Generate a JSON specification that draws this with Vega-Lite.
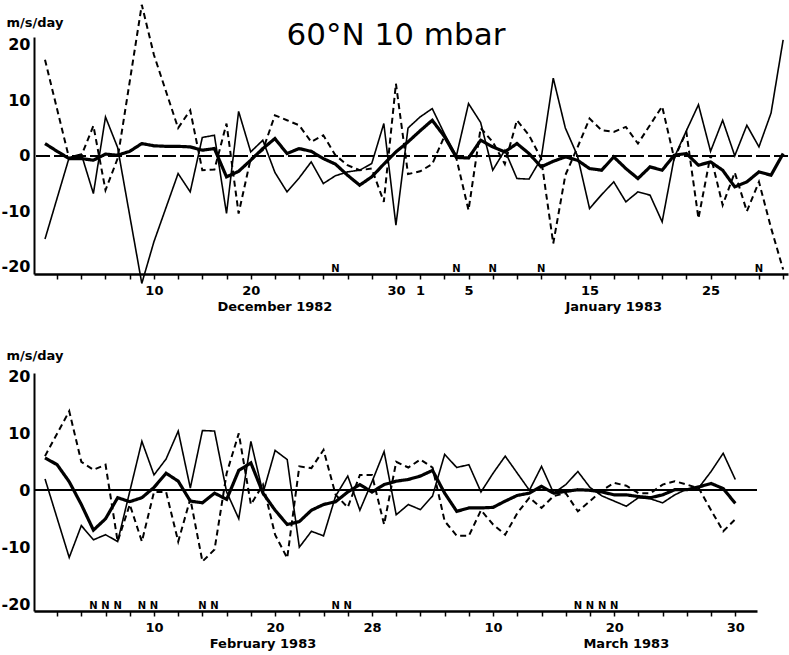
{
  "$schema": "https://vega.github.io/schema/vega-lite/v6.json",
  "background": "white",
  "padding": {"left": 1, "top": 0, "right": 0, "bottom": 0},
  "autosize": {"type": "pad"},
  "spacing": 35,
  "config": {
    "view": {"stroke": null},
    "font": "DejaVu Sans",
    "axis": {"grid": false, "domainColor": "black", "tickColor": "black", "labelColor": "black", "titleColor": "black", "labelFont": "DejaVu Sans", "labelFontWeight": "bold", "labelOverlap": false, "labelFlush": false}
  },
  "datasets": {
    "top": [
      {"date":"1982-12-01","series":"total","value":2.2},{"date":"1982-12-02","series":"total","value":0.8},{"date":"1982-12-03","series":"total","value":-0.5},{"date":"1982-12-04","series":"total","value":-0.5},{"date":"1982-12-05","series":"total","value":-0.8},{"date":"1982-12-06","series":"total","value":0.3},{"date":"1982-12-07","series":"total","value":0.1},{"date":"1982-12-08","series":"total","value":0.8},{"date":"1982-12-09","series":"total","value":2.2},{"date":"1982-12-10","series":"total","value":1.8},{"date":"1982-12-11","series":"total","value":1.7},{"date":"1982-12-12","series":"total","value":1.7},{"date":"1982-12-13","series":"total","value":1.6},{"date":"1982-12-14","series":"total","value":1.0},{"date":"1982-12-15","series":"total","value":1.3},{"date":"1982-12-16","series":"total","value":-3.8},{"date":"1982-12-17","series":"total","value":-2.8},{"date":"1982-12-18","series":"total","value":-0.8},{"date":"1982-12-19","series":"total","value":1.3},{"date":"1982-12-20","series":"total","value":3.1},{"date":"1982-12-21","series":"total","value":0.4},{"date":"1982-12-22","series":"total","value":1.3},{"date":"1982-12-23","series":"total","value":0.8},{"date":"1982-12-24","series":"total","value":-0.5},{"date":"1982-12-25","series":"total","value":-1.5},{"date":"1982-12-26","series":"total","value":-3.5},{"date":"1982-12-27","series":"total","value":-5.3},{"date":"1982-12-28","series":"total","value":-3.8},{"date":"1982-12-29","series":"total","value":-1.5},{"date":"1982-12-30","series":"total","value":0.7},{"date":"1982-12-31","series":"total","value":2.5},{"date":"1983-01-01","series":"total","value":4.5},{"date":"1983-01-02","series":"total","value":6.4},{"date":"1983-01-03","series":"total","value":3.5},{"date":"1983-01-04","series":"total","value":-0.3},{"date":"1983-01-05","series":"total","value":-0.4},{"date":"1983-01-06","series":"total","value":2.8},{"date":"1983-01-07","series":"total","value":1.6},{"date":"1983-01-08","series":"total","value":0.7},{"date":"1983-01-09","series":"total","value":2.2},{"date":"1983-01-10","series":"total","value":0.4},{"date":"1983-01-11","series":"total","value":-2.0},{"date":"1983-01-12","series":"total","value":-1.0},{"date":"1983-01-13","series":"total","value":-0.2},{"date":"1983-01-14","series":"total","value":-0.8},{"date":"1983-01-15","series":"total","value":-2.3},{"date":"1983-01-16","series":"total","value":-2.6},{"date":"1983-01-17","series":"total","value":-0.2},{"date":"1983-01-18","series":"total","value":-2.3},{"date":"1983-01-19","series":"total","value":-4.1},{"date":"1983-01-20","series":"total","value":-2.0},{"date":"1983-01-21","series":"total","value":-2.6},{"date":"1983-01-22","series":"total","value":0.1},{"date":"1983-01-23","series":"total","value":0.4},{"date":"1983-01-24","series":"total","value":-1.7},{"date":"1983-01-25","series":"total","value":-1.1},{"date":"1983-01-26","series":"total","value":-2.6},{"date":"1983-01-27","series":"total","value":-5.6},{"date":"1983-01-28","series":"total","value":-4.7},{"date":"1983-01-29","series":"total","value":-2.9},{"date":"1983-01-30","series":"total","value":-3.5},{"date":"1983-01-31","series":"total","value":0.4},
      {"date":"1982-12-01","series":"solid","value":-15},{"date":"1982-12-03","series":"solid","value":-0.3},{"date":"1982-12-04","series":"solid","value":0.3},{"date":"1982-12-05","series":"solid","value":-6.8},{"date":"1982-12-06","series":"solid","value":7},{"date":"1982-12-07","series":"solid","value":1.5},{"date":"1982-12-09","series":"solid","value":-23},{"date":"1982-12-10","series":"solid","value":-15.5},{"date":"1982-12-12","series":"solid","value":-3.2},{"date":"1982-12-13","series":"solid","value":-6.5},{"date":"1982-12-14","series":"solid","value":3.3},{"date":"1982-12-15","series":"solid","value":3.7},{"date":"1982-12-16","series":"solid","value":-10.4},{"date":"1982-12-17","series":"solid","value":8},{"date":"1982-12-18","series":"solid","value":0.7},{"date":"1982-12-19","series":"solid","value":2.8},{"date":"1982-12-20","series":"solid","value":-3},{"date":"1982-12-21","series":"solid","value":-6.5},{"date":"1982-12-22","series":"solid","value":-4},{"date":"1982-12-23","series":"solid","value":-1.1},{"date":"1982-12-24","series":"solid","value":-5},{"date":"1982-12-25","series":"solid","value":-3.6},{"date":"1982-12-26","series":"solid","value":-2.9},{"date":"1982-12-27","series":"solid","value":-2.6},{"date":"1982-12-28","series":"solid","value":-1.4},{"date":"1982-12-29","series":"solid","value":5.8},{"date":"1982-12-30","series":"solid","value":-12.5},{"date":"1982-12-31","series":"solid","value":5},{"date":"1983-01-01","series":"solid","value":7},{"date":"1983-01-02","series":"solid","value":8.5},{"date":"1983-01-03","series":"solid","value":4},{"date":"1983-01-04","series":"solid","value":0},{"date":"1983-01-05","series":"solid","value":9.4},{"date":"1983-01-06","series":"solid","value":6},{"date":"1983-01-07","series":"solid","value":-2.6},{"date":"1983-01-08","series":"solid","value":1},{"date":"1983-01-09","series":"solid","value":-4.1},{"date":"1983-01-10","series":"solid","value":-4.2},{"date":"1983-01-11","series":"solid","value":-0.5},{"date":"1983-01-12","series":"solid","value":14},{"date":"1983-01-13","series":"solid","value":5},{"date":"1983-01-14","series":"solid","value":0},{"date":"1983-01-15","series":"solid","value":-9.5},{"date":"1983-01-16","series":"solid","value":-7},{"date":"1983-01-17","series":"solid","value":-4.7},{"date":"1983-01-18","series":"solid","value":-8.3},{"date":"1983-01-19","series":"solid","value":-6.5},{"date":"1983-01-20","series":"solid","value":-7.1},{"date":"1983-01-21","series":"solid","value":-11.9},{"date":"1983-01-22","series":"solid","value":-0.3},{"date":"1983-01-23","series":"solid","value":4.5},{"date":"1983-01-24","series":"solid","value":9.2},{"date":"1983-01-25","series":"solid","value":0.8},{"date":"1983-01-26","series":"solid","value":6.4},{"date":"1983-01-27","series":"solid","value":0},{"date":"1983-01-28","series":"solid","value":5.5},{"date":"1983-01-29","series":"solid","value":1.6},{"date":"1983-01-30","series":"solid","value":7.7},{"date":"1983-01-31","series":"solid","value":20.9},
      {"date":"1982-12-01","series":"dashed","value":17.3},{"date":"1982-12-03","series":"dashed","value":-0.5},{"date":"1982-12-04","series":"dashed","value":0},{"date":"1982-12-05","series":"dashed","value":5.4},{"date":"1982-12-06","series":"dashed","value":-6.2},{"date":"1982-12-07","series":"dashed","value":-0.5},{"date":"1982-12-09","series":"dashed","value":27.2},{"date":"1982-12-10","series":"dashed","value":18.2},{"date":"1982-12-12","series":"dashed","value":5.0},{"date":"1982-12-13","series":"dashed","value":8.2},{"date":"1982-12-14","series":"dashed","value":-2.6},{"date":"1982-12-15","series":"dashed","value":-2.5},{"date":"1982-12-16","series":"dashed","value":5.8},{"date":"1982-12-17","series":"dashed","value":-10.4},{"date":"1982-12-18","series":"dashed","value":-0.5},{"date":"1982-12-19","series":"dashed","value":1},{"date":"1982-12-20","series":"dashed","value":7.3},{"date":"1982-12-21","series":"dashed","value":6.4},{"date":"1982-12-22","series":"dashed","value":5.5},{"date":"1982-12-23","series":"dashed","value":2.5},{"date":"1982-12-24","series":"dashed","value":3.7},{"date":"1982-12-25","series":"dashed","value":0.1},{"date":"1982-12-26","series":"dashed","value":-1.7},{"date":"1982-12-27","series":"dashed","value":-2.6},{"date":"1982-12-28","series":"dashed","value":-2.3},{"date":"1982-12-29","series":"dashed","value":-8.3},{"date":"1982-12-30","series":"dashed","value":13},{"date":"1982-12-31","series":"dashed","value":-3.3},{"date":"1983-01-01","series":"dashed","value":-2.8},{"date":"1983-01-02","series":"dashed","value":-1.5},{"date":"1983-01-03","series":"dashed","value":3.5},{"date":"1983-01-04","series":"dashed","value":-0.5},{"date":"1983-01-05","series":"dashed","value":-9.8},{"date":"1983-01-06","series":"dashed","value":5},{"date":"1983-01-07","series":"dashed","value":2.5},{"date":"1983-01-08","series":"dashed","value":-1.5},{"date":"1983-01-09","series":"dashed","value":6.4},{"date":"1983-01-10","series":"dashed","value":3.7},{"date":"1983-01-11","series":"dashed","value":-0.5},{"date":"1983-01-12","series":"dashed","value":-15.8},{"date":"1983-01-13","series":"dashed","value":-3.5},{"date":"1983-01-14","series":"dashed","value":1.5},{"date":"1983-01-15","series":"dashed","value":6.7},{"date":"1983-01-16","series":"dashed","value":4.6},{"date":"1983-01-17","series":"dashed","value":4.3},{"date":"1983-01-18","series":"dashed","value":5.2},{"date":"1983-01-19","series":"dashed","value":2.2},{"date":"1983-01-21","series":"dashed","value":8.9},{"date":"1983-01-22","series":"dashed","value":-0.5},{"date":"1983-01-23","series":"dashed","value":4.3},{"date":"1983-01-24","series":"dashed","value":-11.3},{"date":"1983-01-25","series":"dashed","value":0.1},{"date":"1983-01-26","series":"dashed","value":-8.9},{"date":"1983-01-27","series":"dashed","value":-3},{"date":"1983-01-28","series":"dashed","value":-10},{"date":"1983-01-29","series":"dashed","value":-4.7},{"date":"1983-01-30","series":"dashed","value":-13},{"date":"1983-01-31","series":"dashed","value":-20.5}
    ],
    "bottom": [
      {"date":"1983-02-01","series":"total","value":5.7},{"date":"1983-02-02","series":"total","value":4.5},{"date":"1983-02-03","series":"total","value":1.5},{"date":"1983-02-04","series":"total","value":-2.5},{"date":"1983-02-05","series":"total","value":-7},{"date":"1983-02-06","series":"total","value":-5},{"date":"1983-02-07","series":"total","value":-1.3},{"date":"1983-02-08","series":"total","value":-2},{"date":"1983-02-09","series":"total","value":-1.3},{"date":"1983-02-10","series":"total","value":0.5},{"date":"1983-02-11","series":"total","value":3},{"date":"1983-02-12","series":"total","value":1.6},{"date":"1983-02-13","series":"total","value":-1.9},{"date":"1983-02-14","series":"total","value":-2.2},{"date":"1983-02-15","series":"total","value":-0.5},{"date":"1983-02-16","series":"total","value":-1.6},{"date":"1983-02-17","series":"total","value":3.5},{"date":"1983-02-18","series":"total","value":4.8},{"date":"1983-02-19","series":"total","value":-0.5},{"date":"1983-02-20","series":"total","value":-3.5},{"date":"1983-02-21","series":"total","value":-6},{"date":"1983-02-22","series":"total","value":-5.5},{"date":"1983-02-23","series":"total","value":-3.5},{"date":"1983-02-24","series":"total","value":-2.5},{"date":"1983-02-25","series":"total","value":-2},{"date":"1983-02-26","series":"total","value":-0.3},{"date":"1983-02-27","series":"total","value":1},{"date":"1983-02-28","series":"total","value":-0.3},{"date":"1983-03-01","series":"total","value":1},{"date":"1983-03-02","series":"total","value":1.6},{"date":"1983-03-03","series":"total","value":1.9},{"date":"1983-03-04","series":"total","value":2.5},{"date":"1983-03-05","series":"total","value":3.5},{"date":"1983-03-06","series":"total","value":-0.5},{"date":"1983-03-07","series":"total","value":-3.7},{"date":"1983-03-08","series":"total","value":-3.1},{"date":"1983-03-09","series":"total","value":-3.1},{"date":"1983-03-10","series":"total","value":-3},{"date":"1983-03-11","series":"total","value":-1.9},{"date":"1983-03-12","series":"total","value":-0.9},{"date":"1983-03-13","series":"total","value":-0.5},{"date":"1983-03-14","series":"total","value":0.7},{"date":"1983-03-15","series":"total","value":-0.5},{"date":"1983-03-16","series":"total","value":-0.2},{"date":"1983-03-17","series":"total","value":0.1},{"date":"1983-03-18","series":"total","value":0},{"date":"1983-03-19","series":"total","value":-0.3},{"date":"1983-03-20","series":"total","value":-0.8},{"date":"1983-03-21","series":"total","value":-0.8},{"date":"1983-03-22","series":"total","value":-1.1},{"date":"1983-03-23","series":"total","value":-1.3},{"date":"1983-03-24","series":"total","value":-0.8},{"date":"1983-03-25","series":"total","value":0.1},{"date":"1983-03-26","series":"total","value":0.1},{"date":"1983-03-27","series":"total","value":0.6},{"date":"1983-03-28","series":"total","value":1.2},{"date":"1983-03-29","series":"total","value":0.3},{"date":"1983-03-30","series":"total","value":-2.3},
      {"date":"1983-02-01","series":"solid","value":2},{"date":"1983-02-03","series":"solid","value":-11.8},{"date":"1983-02-04","series":"solid","value":-6.2},{"date":"1983-02-05","series":"solid","value":-8.7},{"date":"1983-02-06","series":"solid","value":-7.8},{"date":"1983-02-07","series":"solid","value":-9},{"date":"1983-02-09","series":"solid","value":8.6},{"date":"1983-02-10","series":"solid","value":2.7},{"date":"1983-02-11","series":"solid","value":5.5},{"date":"1983-02-12","series":"solid","value":10.4},{"date":"1983-02-13","series":"solid","value":0.4},{"date":"1983-02-14","series":"solid","value":10.5},{"date":"1983-02-15","series":"solid","value":10.4},{"date":"1983-02-16","series":"solid","value":-0.3},{"date":"1983-02-17","series":"solid","value":-5},{"date":"1983-02-18","series":"solid","value":8.6},{"date":"1983-02-19","series":"solid","value":-0.5},{"date":"1983-02-20","series":"solid","value":7},{"date":"1983-02-21","series":"solid","value":5.4},{"date":"1983-02-22","series":"solid","value":-10},{"date":"1983-02-23","series":"solid","value":-7.2},{"date":"1983-02-24","series":"solid","value":-8},{"date":"1983-02-25","series":"solid","value":-1},{"date":"1983-02-26","series":"solid","value":2.5},{"date":"1983-02-27","series":"solid","value":-3.5},{"date":"1983-02-28","series":"solid","value":1.5},{"date":"1983-03-01","series":"solid","value":6.8},{"date":"1983-03-02","series":"solid","value":-4.3},{"date":"1983-03-03","series":"solid","value":-2.5},{"date":"1983-03-04","series":"solid","value":-3.4},{"date":"1983-03-05","series":"solid","value":-1},{"date":"1983-03-06","series":"solid","value":6.3},{"date":"1983-03-07","series":"solid","value":4},{"date":"1983-03-08","series":"solid","value":4.5},{"date":"1983-03-09","series":"solid","value":-0.3},{"date":"1983-03-10","series":"solid","value":3},{"date":"1983-03-11","series":"solid","value":6},{"date":"1983-03-12","series":"solid","value":3},{"date":"1983-03-13","series":"solid","value":0},{"date":"1983-03-14","series":"solid","value":4.2},{"date":"1983-03-15","series":"solid","value":-0.5},{"date":"1983-03-16","series":"solid","value":1},{"date":"1983-03-17","series":"solid","value":3.3},{"date":"1983-03-18","series":"solid","value":0.5},{"date":"1983-03-19","series":"solid","value":-1},{"date":"1983-03-20","series":"solid","value":-1.9},{"date":"1983-03-21","series":"solid","value":-2.8},{"date":"1983-03-22","series":"solid","value":-1.3},{"date":"1983-03-23","series":"solid","value":-1.5},{"date":"1983-03-24","series":"solid","value":-2.2},{"date":"1983-03-25","series":"solid","value":-0.8},{"date":"1983-03-26","series":"solid","value":0.2},{"date":"1983-03-27","series":"solid","value":0.5},{"date":"1983-03-28","series":"solid","value":3.3},{"date":"1983-03-29","series":"solid","value":6.5},{"date":"1983-03-30","series":"solid","value":1.9},
      {"date":"1983-02-01","series":"dashed","value":6},{"date":"1983-02-03","series":"dashed","value":13.9},{"date":"1983-02-04","series":"dashed","value":5},{"date":"1983-02-05","series":"dashed","value":3.6},{"date":"1983-02-06","series":"dashed","value":4.5},{"date":"1983-02-07","series":"dashed","value":-9},{"date":"1983-02-08","series":"dashed","value":-2.5},{"date":"1983-02-09","series":"dashed","value":-9},{"date":"1983-02-10","series":"dashed","value":-0.3},{"date":"1983-02-11","series":"dashed","value":-0.3},{"date":"1983-02-12","series":"dashed","value":-9},{"date":"1983-02-13","series":"dashed","value":-1.5},{"date":"1983-02-14","series":"dashed","value":-12.5},{"date":"1983-02-15","series":"dashed","value":-10.4},{"date":"1983-02-16","series":"dashed","value":3},{"date":"1983-02-17","series":"dashed","value":10},{"date":"1983-02-18","series":"dashed","value":-2.5},{"date":"1983-02-19","series":"dashed","value":1},{"date":"1983-02-20","series":"dashed","value":-7.8},{"date":"1983-02-21","series":"dashed","value":-11.9},{"date":"1983-02-22","series":"dashed","value":4.2},{"date":"1983-02-23","series":"dashed","value":3.9},{"date":"1983-02-24","series":"dashed","value":7.1},{"date":"1983-02-25","series":"dashed","value":-0.8},{"date":"1983-02-26","series":"dashed","value":-3},{"date":"1983-02-27","series":"dashed","value":2.7},{"date":"1983-02-28","series":"dashed","value":2.7},{"date":"1983-03-01","series":"dashed","value":-6},{"date":"1983-03-02","series":"dashed","value":5},{"date":"1983-03-03","series":"dashed","value":4},{"date":"1983-03-04","series":"dashed","value":5.4},{"date":"1983-03-05","series":"dashed","value":4},{"date":"1983-03-06","series":"dashed","value":-5.4},{"date":"1983-03-07","series":"dashed","value":-8},{"date":"1983-03-08","series":"dashed","value":-8},{"date":"1983-03-09","series":"dashed","value":-3.5},{"date":"1983-03-10","series":"dashed","value":-6},{"date":"1983-03-11","series":"dashed","value":-7.8},{"date":"1983-03-12","series":"dashed","value":-4},{"date":"1983-03-13","series":"dashed","value":-1.3},{"date":"1983-03-14","series":"dashed","value":-3.1},{"date":"1983-03-15","series":"dashed","value":-1},{"date":"1983-03-16","series":"dashed","value":-0.5},{"date":"1983-03-17","series":"dashed","value":-3.7},{"date":"1983-03-18","series":"dashed","value":-1.9},{"date":"1983-03-19","series":"dashed","value":0},{"date":"1983-03-20","series":"dashed","value":1.3},{"date":"1983-03-21","series":"dashed","value":0.8},{"date":"1983-03-22","series":"dashed","value":-0.5},{"date":"1983-03-23","series":"dashed","value":-0.5},{"date":"1983-03-24","series":"dashed","value":1},{"date":"1983-03-25","series":"dashed","value":1.6},{"date":"1983-03-26","series":"dashed","value":1},{"date":"1983-03-27","series":"dashed","value":0.3},{"date":"1983-03-28","series":"dashed","value":-3.5},{"date":"1983-03-29","series":"dashed","value":-7.2},{"date":"1983-03-30","series":"dashed","value":-5.1}
    ],
    "topN": [{"date":"1982-12-25"},{"date":"1983-01-04"},{"date":"1983-01-07"},{"date":"1983-01-11"},{"date":"1983-01-29"}],
    "bottomN": [{"date":"1983-02-05"},{"date":"1983-02-06"},{"date":"1983-02-07"},{"date":"1983-02-09"},{"date":"1983-02-10"},{"date":"1983-02-14"},{"date":"1983-02-15"},{"date":"1983-02-25"},{"date":"1983-02-26"},{"date":"1983-03-17"},{"date":"1983-03-18"},{"date":"1983-03-19"},{"date":"1983-03-20"}],
    "topMonths": [{"date":"1982-12-20","label":"December 1982"},{"date":"1983-01-17","label":"January 1983"}],
    "bottomMonths": [{"date":"1983-02-19","label":"February 1983"},{"date":"1983-03-21","label":"March 1983"}]
  },
  "vconcat": [
    {
      "width": 754,
      "height": 237,
      "layer": [
        {
          "data": {"name": "top"},
          "mark": {"type": "rule", "color": "black", "strokeWidth": 1.5, "strokeDash": [14, 4]},
          "encoding": {"y": {"datum": 0, "type": "quantitative"}}
        },
        {
          "data": {"name": "top"},
          "mark": {"type": "line", "color": "black", "strokeJoin": "miter"},
          "encoding": {
            "x": {
              "field": "date", "type": "temporal", "title": null,
              "scale": {"type": "utc", "domain": [{"year": 1982, "month": 11, "date": 30, "hours": 2, "minutes": 12, "utc": true}, {"year": 1983, "month": 1, "date": 31, "hours": 9, "minutes": 36, "utc": true}]},
              "axis": {
                "title": null,
                "tickCount": 200,
                "values": [
                  {"year":1982,"month":12,"date":2,"utc":true},{"year":1982,"month":12,"date":4,"utc":true},{"year":1982,"month":12,"date":6,"utc":true},{"year":1982,"month":12,"date":8,"utc":true},{"year":1982,"month":12,"date":10,"utc":true},{"year":1982,"month":12,"date":12,"utc":true},{"year":1982,"month":12,"date":14,"utc":true},{"year":1982,"month":12,"date":16,"utc":true},{"year":1982,"month":12,"date":18,"utc":true},{"year":1982,"month":12,"date":20,"utc":true},{"year":1982,"month":12,"date":22,"utc":true},{"year":1982,"month":12,"date":24,"utc":true},{"year":1982,"month":12,"date":26,"utc":true},{"year":1982,"month":12,"date":28,"utc":true},{"year":1982,"month":12,"date":30,"utc":true},
                  {"year":1983,"month":1,"date":1,"utc":true},{"year":1983,"month":1,"date":3,"utc":true},{"year":1983,"month":1,"date":5,"utc":true},{"year":1983,"month":1,"date":7,"utc":true},{"year":1983,"month":1,"date":9,"utc":true},{"year":1983,"month":1,"date":11,"utc":true},{"year":1983,"month":1,"date":13,"utc":true},{"year":1983,"month":1,"date":15,"utc":true},{"year":1983,"month":1,"date":17,"utc":true},{"year":1983,"month":1,"date":19,"utc":true},{"year":1983,"month":1,"date":21,"utc":true},{"year":1983,"month":1,"date":23,"utc":true},{"year":1983,"month":1,"date":25,"utc":true},{"year":1983,"month":1,"date":27,"utc":true},{"year":1983,"month":1,"date":29,"utc":true},{"year":1983,"month":1,"date":31,"utc":true}
                ],
                "labelExpr": "(utcmonth(datum.value) == 11 && utcdate(datum.value) == 18) ? '20' : (utcmonth(datum.value) == 11 && utcdate(datum.value) == 20) ? '' : (indexof([10, 30, 1, 5, 15, 25], utcdate(datum.value)) >= 0 ? toString(utcdate(datum.value)) : '')",
                "labelOverlap": false, "labelFlush": false, "labelBound": false,
                "tickSize": 5, "tickWidth": 1.5, "labelPadding": 5, "labelFontSize": 13,
                "domainWidth": 2.5, "labelBaseline": "top"
              }
            },
            "y": {
              "field": "value", "type": "quantitative", "title": "m/s/day",
              "scale": {"domain": [-21.3, 21.4], "nice": false, "zero": false},
              "axis": {
                "values": [-20, -10, 0, 10, 20],
                "labelExpr": "toString(datum.value)",
                "title": "m/s/day", "titleAngle": 0, "titleAlign": "left", "titleBaseline": "alphabetic",
                "titleX": -28, "titleY": -11, "titleFont": "DejaVu Sans", "titleFontSize": 13, "titleFontWeight": "bold",
                "ticks": false, "labelPadding": 4, "labelFontSize": 16, "domainWidth": 2
              }
            },
            "strokeWidth": {"condition": [{"test": "datum.series == 'total'", "value": 3.2}, {"test": "datum.series == 'dashed'", "value": 2}], "value": 1.6},
            "strokeDash": {"field": "series", "type": "nominal", "scale": {"domain": ["total", "solid", "dashed"], "range": [[1, 0], [1, 0], [6, 4]]}, "legend": null}
          }
        },
        {
          "data": {"name": "topN"},
          "mark": {"type": "text", "font": "DejaVu Sans", "fontWeight": "bold", "fontSize": 10, "baseline": "bottom", "align": "center", "color": "black"},
          "encoding": {
            "x": {"field": "date", "type": "temporal", "title": null},
            "y": {"datum": -21.3, "type": "quantitative"},
            "text": {"value": "N"}
          }
        },
        {
          "data": {"name": "topMonths"},
          "mark": {"type": "text", "font": "DejaVu Sans", "fontWeight": "bold", "fontSize": 13, "baseline": "top", "align": "center", "color": "black"},
          "encoding": {
            "x": {"field": "date", "type": "temporal", "title": null},
            "y": {"datum": -26.1, "type": "quantitative"},
            "text": {"field": "label", "type": "nominal"}
          }
        },
        {
          "data": {"values": [{"label": "60°N  10 mbar"}]},
          "mark": {"type": "text", "font": "DejaVu Sans", "fontSize": 31, "baseline": "alphabetic", "align": "center", "color": "black"},
          "encoding": {
            "x": {"datum": {"year": 1982, "month": 12, "date": 30, "utc": true}, "type": "temporal"},
            "y": {"datum": 20, "type": "quantitative"},
            "text": {"field": "label", "type": "nominal"}
          }
        }
      ]
    },
    {
      "width": 723,
      "height": 238,
      "layer": [
        {
          "data": {"name": "bottom"},
          "mark": {"type": "rule", "color": "black", "strokeWidth": 1.5},
          "encoding": {"y": {"datum": 0, "type": "quantitative"}}
        },
        {
          "data": {"name": "bottom"},
          "mark": {"type": "line", "color": "black", "strokeJoin": "miter"},
          "encoding": {
            "x": {
              "field": "date", "type": "temporal", "title": null,
              "scale": {"type": "utc", "domain": [{"year": 1983, "month": 1, "date": 31, "hours": 2, "minutes": 12, "utc": true}, {"year": 1983, "month": 3, "date": 31, "hours": 19, "utc": true}]},
              "axis": {
                "title": null,
                "tickCount": 200,
                "values": [
                  {"year":1983,"month":2,"date":2,"utc":true},{"year":1983,"month":2,"date":4,"utc":true},{"year":1983,"month":2,"date":6,"utc":true},{"year":1983,"month":2,"date":8,"utc":true},{"year":1983,"month":2,"date":10,"utc":true},{"year":1983,"month":2,"date":12,"utc":true},{"year":1983,"month":2,"date":14,"utc":true},{"year":1983,"month":2,"date":16,"utc":true},{"year":1983,"month":2,"date":18,"utc":true},{"year":1983,"month":2,"date":20,"utc":true},{"year":1983,"month":2,"date":22,"utc":true},{"year":1983,"month":2,"date":24,"utc":true},{"year":1983,"month":2,"date":26,"utc":true},{"year":1983,"month":2,"date":28,"utc":true},
                  {"year":1983,"month":3,"date":2,"utc":true},{"year":1983,"month":3,"date":4,"utc":true},{"year":1983,"month":3,"date":6,"utc":true},{"year":1983,"month":3,"date":8,"utc":true},{"year":1983,"month":3,"date":10,"utc":true},{"year":1983,"month":3,"date":12,"utc":true},{"year":1983,"month":3,"date":14,"utc":true},{"year":1983,"month":3,"date":16,"utc":true},{"year":1983,"month":3,"date":18,"utc":true},{"year":1983,"month":3,"date":20,"utc":true},{"year":1983,"month":3,"date":22,"utc":true},{"year":1983,"month":3,"date":24,"utc":true},{"year":1983,"month":3,"date":26,"utc":true},{"year":1983,"month":3,"date":28,"utc":true},{"year":1983,"month":3,"date":30,"utc":true}
                ],
                "labelExpr": "((utcmonth(datum.value) == 1 && indexof([10, 20, 28], utcdate(datum.value)) >= 0) || (utcmonth(datum.value) == 2 && indexof([10, 20, 30], utcdate(datum.value)) >= 0)) ? toString(utcdate(datum.value)) : ''",
                "labelOverlap": false, "labelFlush": false, "labelBound": false,
                "tickSize": 5, "tickWidth": 1.5, "labelPadding": 5, "labelFontSize": 13,
                "domainWidth": 2.5, "labelBaseline": "top"
              }
            },
            "y": {
              "field": "value", "type": "quantitative", "title": "m/s/day",
              "scale": {"domain": [-21.2, 20.6], "nice": false, "zero": false},
              "axis": {
                "values": [-20, -10, 0, 10, 20],
                "labelExpr": "toString(datum.value)",
                "title": "m/s/day", "titleAngle": 0, "titleAlign": "left", "titleBaseline": "alphabetic",
                "titleX": -28, "titleY": -14, "titleFont": "DejaVu Sans", "titleFontSize": 13, "titleFontWeight": "bold",
                "ticks": false, "labelPadding": 4, "labelFontSize": 16, "domainWidth": 2
              }
            },
            "strokeWidth": {"condition": [{"test": "datum.series == 'total'", "value": 3.2}, {"test": "datum.series == 'dashed'", "value": 2}], "value": 1.6},
            "strokeDash": {"field": "series", "type": "nominal", "scale": {"domain": ["total", "solid", "dashed"], "range": [[1, 0], [1, 0], [6, 4]]}, "legend": null}
          }
        },
        {
          "data": {"name": "bottomN"},
          "mark": {"type": "text", "font": "DejaVu Sans", "fontWeight": "bold", "fontSize": 10, "baseline": "bottom", "align": "center", "color": "black"},
          "encoding": {
            "x": {"field": "date", "type": "temporal", "title": null},
            "y": {"datum": -21.2, "type": "quantitative"},
            "text": {"value": "N"}
          }
        },
        {
          "data": {"name": "bottomMonths"},
          "mark": {"type": "text", "font": "DejaVu Sans", "fontWeight": "bold", "fontSize": 13, "baseline": "top", "align": "center", "color": "black"},
          "encoding": {
            "x": {"field": "date", "type": "temporal", "title": null},
            "y": {"datum": -25.9, "type": "quantitative"},
            "text": {"field": "label", "type": "nominal"}
          }
        }
      ]
    }
  ]
}
